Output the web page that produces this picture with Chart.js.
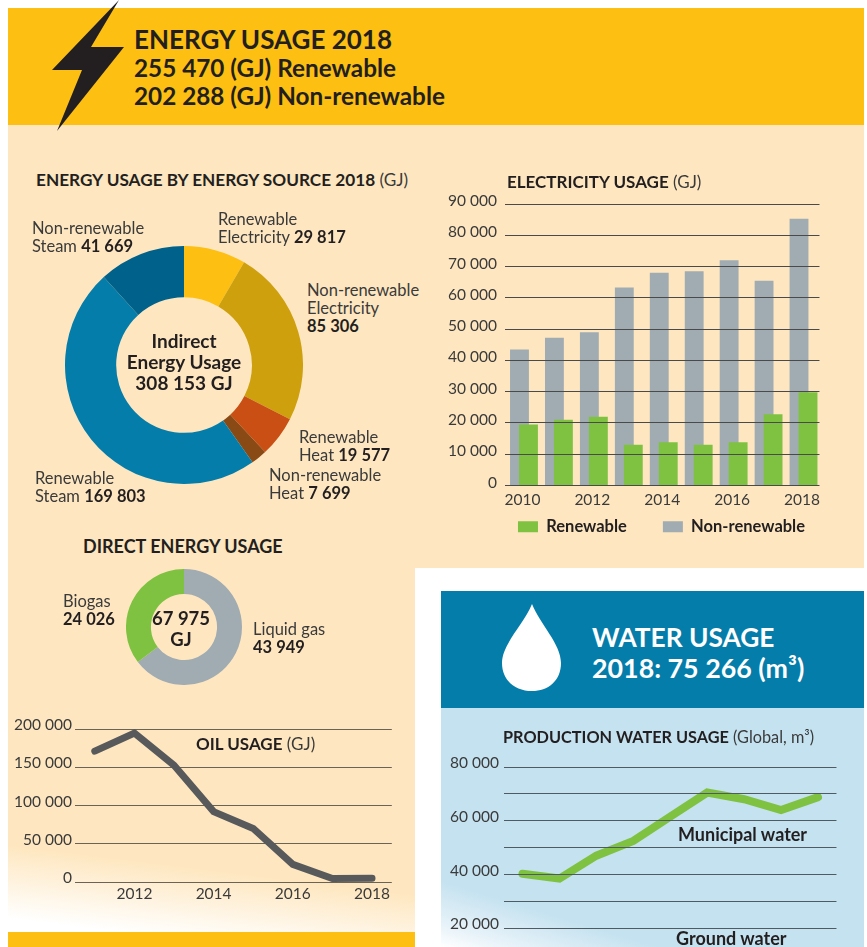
<!DOCTYPE html>
<html><head><meta charset="utf-8">
<script src="https://cdn.jsdelivr.net/npm/chart.js@4/dist/chart.umd.js"></script>
<style>
html,body{margin:0;padding:0;width:867px;height:947px;overflow:hidden;background:#fff;}
body{position:relative;font-family:Lato,sans-serif;color:#231f20;}
.a{position:absolute;}
.t{position:absolute;white-space:nowrap;line-height:18px;font-size:16.5px;color:#3a3a3a;}
.t b{color:#231f20;font-weight:700;}
canvas{position:absolute;display:block;}
</style></head><body>
<!-- panels -->
<div class="a" style="left:8px;top:125px;width:856px;height:807px;background:linear-gradient(187deg,#fee7c0 0,#fee7c0 90.5%,#fff 98.5%);"></div>
<div class="a" style="left:8px;top:8px;width:856px;height:117px;background:#fdbf12;"></div>
<div class="a" style="left:8px;top:932px;width:407px;height:15px;background:#fdbf12;"></div>
<div class="a" style="left:415px;top:568px;width:452px;height:379px;background:#fff;"></div>
<div class="a" style="left:441px;top:708px;width:423px;height:239px;background:linear-gradient(197deg,#c5e2f0 0,#c5e2f0 82%,#e8f3f9 94%,#ffffff 100%);"></div>
<div class="a" style="left:441px;top:591px;width:423px;height:117px;background:#057daa;"></div>
<svg class="a" style="left:0;top:0;" width="867" height="947">
<polygon points="119,0 91,47 124,47 57,131 82,70 52,70" fill="#231f20"/>
<path d="M532,604 C524,624 502,644 502,663 C502,681 516,691 532,691 C548,691 561,681 561,663 C561,644 540,624 532,604 Z" fill="#fff"/>
</svg>
<!-- header text -->
<div class="t" style="left:134px;top:24px;line-height:30px;font-size:26px;font-weight:700;color:#231f20;">ENERGY USAGE 2018</div>
<div class="t" style="left:134px;top:53px;line-height:30px;font-size:24.3px;font-weight:700;color:#231f20;">255 470 (GJ) Renewable</div>
<div class="t" style="left:134px;top:81px;line-height:30px;font-size:24.3px;font-weight:700;color:#231f20;">202 288 (GJ) Non-renewable</div>
<div class="t" style="left:592px;top:621px;line-height:32px;font-size:26.3px;font-weight:700;color:#fff;">WATER USAGE</div>
<div class="t" style="left:592px;top:652px;line-height:32px;font-size:26.8px;font-weight:700;color:#fff;">2018: 75 266 (m³)</div>

<canvas id="donut1" class="a" style="left:65px;top:246px;" width="238" height="238"></canvas>
<canvas id="donut2" class="a" style="left:126px;top:569px;" width="116" height="116"></canvas>
<canvas id="bars" class="a" style="left:430px;top:186px;" width="395" height="387"></canvas>
<canvas id="oil" class="a" style="left:0;top:711px;" width="393" height="197"></canvas>
<canvas id="water" class="a" style="left:430px;top:749px;" width="409" height="263"></canvas>

<!-- chart titles -->
<div class="t" style="left:36px;top:171px;font-size:17.2px;"><b>ENERGY USAGE BY ENERGY SOURCE 2018</b> (GJ)</div>
<div class="t" style="left:507px;top:173px;font-size:17px;"><b>ELECTRICITY USAGE</b> (GJ)</div>
<div class="t" style="left:83px;top:537px;font-size:18px;"><b>DIRECT ENERGY USAGE</b></div>
<div class="t" style="left:196px;top:735px;font-size:17px;"><b>OIL USAGE</b> (GJ)</div>
<div class="t" style="left:503px;top:728px;font-size:16.3px;"><b>PRODUCTION WATER USAGE</b> (Global, m³)</div>
<!-- donut labels -->
<div class="t" style="left:32px;top:219px;">Non-renewable<br>Steam <b>41 669</b></div>
<div class="t" style="left:218px;top:210px;">Renewable<br>Electricity <b>29 817</b></div>
<div class="t" style="left:307px;top:281px;">Non-renewable<br>Electricity<br><b>85 306</b></div>
<div class="t" style="left:299px;top:428px;">Renewable<br>Heat <b>19 577</b></div>
<div class="t" style="left:269px;top:466px;">Non-renewable<br>Heat <b>7 699</b></div>
<div class="t" style="left:35px;top:469px;">Renewable<br>Steam <b>169 803</b></div>
<div class="t" style="left:104px;top:330px;width:160px;text-align:center;line-height:21px;font-size:19px;"><b>Indirect<br>Energy Usage<br>308 153 GJ</b></div>
<div class="t" style="left:131px;top:608px;width:100px;text-align:center;line-height:21px;font-size:18.5px;"><b>67 975<br>GJ</b></div>
<div class="t" style="left:63px;top:592px;">Biogas<br><b>24 026</b></div>
<div class="t" style="left:253px;top:620px;">Liquid gas<br><b>43 949</b></div>
<div class="t" style="left:678px;top:825px;font-size:18px;"><b>Municipal water</b></div>
<div class="t" style="left:676px;top:929px;font-size:18px;"><b>Ground water</b></div>

<script>
const indirectLabels=['Renewable Electricity','Non-renewable Electricity','Renewable Heat','Non-renewable Heat','Renewable Steam','Non-renewable Steam'];
const indirectValues=[29817,85306,19577,7699,169803,41669];
const indirectColors=['#fdbf12','#cfa00e','#c94f14','#8a4a16','#057daa','#00618a'];
const directLabels=['Liquid gas','Biogas'];
const directValues=[43949,24026];
const directColors=['#a0acb2','#7fc241'];
const elecYears=['2010','2011','2012','2013','2014','2015','2016','2017','2018'];
const elecRenewable=[19500,21000,22000,13000,13800,13000,13800,22800,29817];
const elecNonRenewable=[43500,47200,49000,63300,68000,68500,72000,65500,85306];
const oilYears=['2011','2012','2013','2014','2015','2016','2017','2018'];
const oilValues=[171000,194800,152500,92000,70000,23000,4500,5000];
const waterYears=['2010','2011','2012','2013','2014','2015','2016','2017','2018'];
const waterMunicipal=[40300,38500,47000,52500,61500,70500,68000,64000,68800];

Chart.defaults.animation=false;
Chart.defaults.responsive=false;
Chart.defaults.font.family='Lato, sans-serif';
const fmt=v=>String(v).replace(/\B(?=(\d{3})+$)/g,' ');
const tickColor='#3a3a3a';
const lift={id:'lift',beforeDraw(c,a,o){ if(c.$lifted) return; c.$lifted=true;
  c.scales.y.getLabelItems().forEach(i=>{i.options.translation[1]-=o.dy||0;});}};
const fitY=w=>({afterFit(s){s.width=w;}});
const fitX=h=>({afterFit(s){s.height=h;}});
const evenYears=function(v){const l=this.getLabelForValue(v);return (+l%2===0)?l:'';};

function donut(id,labels,data,backgroundColor,cutout){
  new Chart(document.getElementById(id),{type:'doughnut',
    data:{labels,datasets:[{data,backgroundColor,borderWidth:0}]},
    options:{cutout,layout:{padding:0},plugins:{legend:{display:false},tooltip:{enabled:false}}}});
}
donut('donut1',indirectLabels,indirectValues,indirectColors,'57%');
donut('donut2',directLabels,directValues,directColors,'57%');

const legendShift={id:'legendShift',afterLayout(c){const l=c.legend;l.left+=34;l.right+=34;l.top-=28;l.bottom-=28;}};
const barShift={id:'barShift',afterDatasetsUpdate(c){
  c.getDatasetMeta(0).data.forEach(b=>{b.x+=6;});
  c.getDatasetMeta(1).data.forEach(b=>{b.x-=3;});}};
new Chart(document.getElementById('bars'),{type:'bar',
  data:{labels:elecYears,datasets:[
    {label:'Renewable',data:elecRenewable,backgroundColor:'#7fc241'},
    {label:'Non-renewable',data:elecNonRenewable,backgroundColor:'#a0acb2'}]},
  options:{layout:{padding:{top:18,right:0,left:0,bottom:0}},
    datasets:{bar:{grouped:false,categoryPercentage:0.54,barPercentage:1}},
    scales:{
      x:{...fitX(25),grid:{display:false,drawTicks:false},border:{display:false},
         ticks:{color:tickColor,font:{size:15.5},autoSkip:false,maxRotation:0,padding:5,callback:evenYears}},
      y:{...fitY(75),min:0,max:90000,grid:{color:'#4a4a4a',lineWidth:1,z:1,drawTicks:false},border:{display:false},
         ticks:{stepSize:10000,color:tickColor,font:{size:15.5},padding:8,callback:fmt}}},
    plugins:{tooltip:{enabled:false},lift:{dy:3},
      legend:{position:'bottom',labels:{boxWidth:20,boxHeight:11,padding:36,color:'#231f20',font:{size:16.5,weight:'700'}}}}},
  plugins:[legendShift,barShift,lift]});

function lineChart(id,labels,data,color,width,min,max,step,yWidth,xh,tickCb,gridZ,gridColor,tickPad){
  new Chart(document.getElementById(id),{type:'line',
    data:{labels,datasets:[{data,borderColor:color,borderWidth:width,tension:0,pointRadius:0,borderCapStyle:'round',borderJoinStyle:'miter',clip:false}]},
    options:{layout:{padding:{top:18,right:0,left:0,bottom:0}},
      scales:{
        x:{...fitX(xh),offset:true,grid:{display:false,drawTicks:false},border:{display:false},
           ticks:{color:tickColor,font:{size:15.5},autoSkip:false,maxRotation:0,padding:3,callback:evenYears}},
        y:{...fitY(yWidth),min,max,grid:{color:gridColor,lineWidth:1,z:gridZ,drawTicks:false},border:{display:false},
           ticks:{stepSize:step,color:tickColor,font:{size:15.5},padding:tickPad,callback:tickCb}}},
      plugins:{legend:{display:false},tooltip:{enabled:false},lift:{dy:4}}},
    plugins:[lift]});
}
lineChart('oil',oilYears,oilValues,'#58595b',7,0,200000,50000,75,26,fmt,-1,'#6b6356',3);
lineChart('water',waterYears,waterMunicipal,'#7fc241',8,0,80000,10000,74,30,v=>v%20000===0?fmt(v):'',1,'#4f5b60',5);
</script>
</body></html>
